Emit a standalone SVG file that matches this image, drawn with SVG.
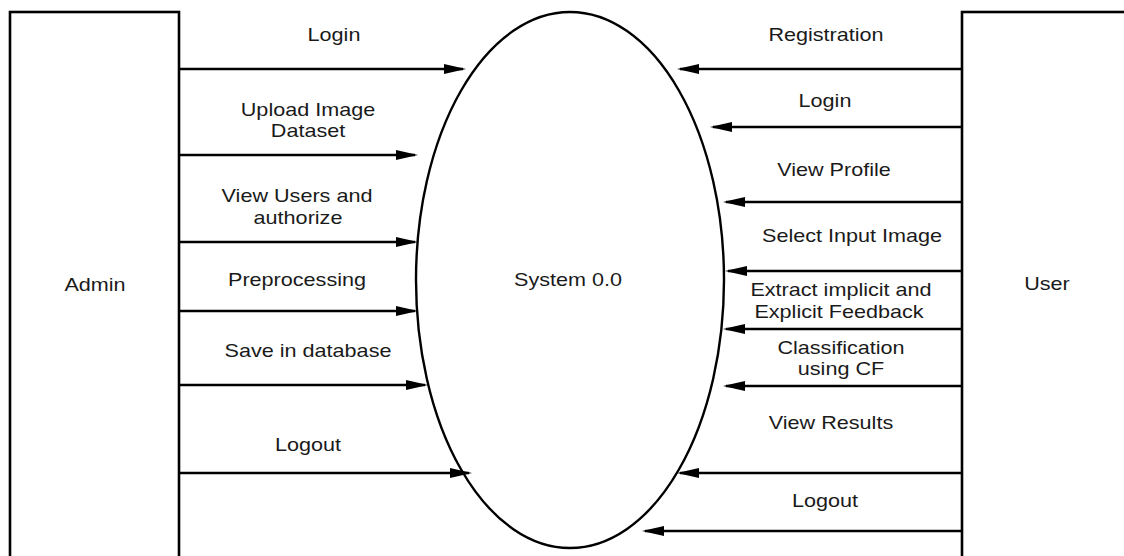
<svg xmlns="http://www.w3.org/2000/svg" width="1124" height="556" viewBox="0 0 1124 556">
<defs>
<style>
.box{fill:#fff;stroke:#000;stroke-width:2.6}
.ell{fill:#fff;stroke:#000;stroke-width:2.4}
.flow{stroke:#000;stroke-width:2.6;fill:none;marker-end:url(#arr)}
text{font-family:"Liberation Sans",Arial,sans-serif;font-size:18px;fill:#1a1a1a;text-anchor:middle}
</style>
<marker id="arr" viewBox="0 0 22 10" markerWidth="22" markerHeight="10" refX="19" refY="5" orient="auto" markerUnits="userSpaceOnUse">
<path d="M0,0 L22,5 L0,10 z" fill="#000"/>
</marker>
</defs>
<rect width="1124" height="556" fill="#fff"/>
<g id="admin">
<rect class="box" x="10" y="12" width="169" height="560"/>
<text transform="translate(95,291) scale(1.2,1)">Admin</text>
</g>
<g id="user">
<rect class="box" x="962" y="12" width="180" height="560"/>
<text transform="translate(1047,290) scale(1.2,1)">User</text>
</g>
<g id="system">
<ellipse class="ell" cx="570" cy="280" rx="154" ry="268"/>
<text transform="translate(568,286) scale(1.2,1)">System 0.0</text>
</g>
<g id="connectors">
<line class="flow" x1="180" y1="69" x2="463" y2="69"/>
<line class="flow" x1="180" y1="155" x2="415" y2="155"/>
<line class="flow" x1="180" y1="242" x2="415" y2="242"/>
<line class="flow" x1="180" y1="311" x2="415" y2="311"/>
<line class="flow" x1="180" y1="385" x2="425" y2="385"/>
<line class="flow" x1="180" y1="473" x2="469" y2="473"/>
<line class="flow" x1="962" y1="69" x2="680" y2="69"/>
<line class="flow" x1="962" y1="127" x2="713" y2="127"/>
<line class="flow" x1="962" y1="202" x2="726" y2="202"/>
<line class="flow" x1="962" y1="271" x2="728" y2="271"/>
<line class="flow" x1="962" y1="329" x2="726" y2="329"/>
<line class="flow" x1="962" y1="386" x2="726" y2="386"/>
<line class="flow" x1="962" y1="473" x2="680" y2="473"/>
<line class="flow" x1="962" y1="531" x2="645" y2="531"/>
</g>
<g id="labels">
<text transform="translate(334,41) scale(1.2,1)">Login</text>
<text transform="translate(308,116) scale(1.2,1)">Upload Image</text>
<text transform="translate(308,137) scale(1.2,1)">Dataset</text>
<text transform="translate(297,202) scale(1.2,1)">View Users and</text>
<text transform="translate(298,224) scale(1.2,1)">authorize</text>
<text transform="translate(297,286) scale(1.2,1)">Preprocessing</text>
<text transform="translate(308,357) scale(1.2,1)">Save in database</text>
<text transform="translate(308,451) scale(1.2,1)">Logout</text>
<text transform="translate(826,41) scale(1.2,1)">Registration</text>
<text transform="translate(825,107) scale(1.2,1)">Login</text>
<text transform="translate(834,176) scale(1.2,1)">View Profile</text>
<text transform="translate(852,242) scale(1.2,1)">Select Input Image</text>
<text transform="translate(841,296) scale(1.2,1)">Extract implicit and</text>
<text transform="translate(839,318) scale(1.2,1)">Explicit Feedback</text>
<text transform="translate(841,354) scale(1.2,1)">Classification</text>
<text transform="translate(841,375) scale(1.2,1)">using CF</text>
<text transform="translate(831,429) scale(1.2,1)">View Results</text>
<text transform="translate(825,507) scale(1.2,1)">Logout</text>
</g>
</svg>
